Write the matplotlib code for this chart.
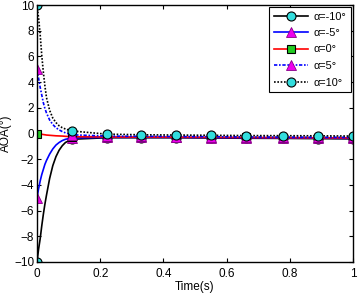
import matplotlib
matplotlib.use("Agg")
import matplotlib.pyplot as plt

plt.rcParams['font.family'] = ['Liberation Sans', 'DejaVu Sans']

t = [0, 0.005, 0.01, 0.015, 0.02, 0.025, 0.03, 0.04, 0.05, 0.06, 0.07, 0.08, 0.09,
     0.11, 0.22, 0.33, 0.44, 0.55, 0.66, 0.78, 0.89, 1.0]
marker_idx = [0, 13, 14, 15, 16, 17, 18, 19, 20, 21]

aoa_m10 = [-10, -9.0, -8.2, -7.2, -6.3, -5.5, -4.8, -3.5, -2.5, -1.8, -1.3, -0.95, -0.7,
           -0.45, -0.33, -0.33, -0.33, -0.35, -0.37, -0.38, -0.4, -0.42]
aoa_m5 = [-5, -4.3, -3.7, -3.2, -2.8, -2.4, -2.1, -1.6, -1.2, -0.9, -0.7, -0.55, -0.45,
          -0.35, -0.3, -0.3, -0.3, -0.32, -0.33, -0.35, -0.36, -0.38]
aoa_0 = [0, -0.02, -0.04, -0.06, -0.08, -0.1, -0.12, -0.14, -0.16, -0.18, -0.19, -0.2, -0.22,
         -0.25, -0.27, -0.28, -0.29, -0.3, -0.31, -0.32, -0.33, -0.34]
aoa_p5 = [5, 4.3, 3.6, 3.0, 2.4, 1.95, 1.6, 1.05, 0.7, 0.45, 0.28, 0.15, 0.05,
          -0.1, -0.2, -0.22, -0.24, -0.25, -0.27, -0.28, -0.29, -0.3]
aoa_p10 = [10, 9.0, 7.7, 6.1, 4.8, 3.7, 2.8, 1.8, 1.2, 0.85, 0.6, 0.45, 0.35,
           0.2, -0.05, -0.1, -0.12, -0.14, -0.16, -0.17, -0.18, -0.2]

labels = ['α=-10°', 'α=-5°', 'α=0°', 'α=5°', 'α=10°']
xticks = [0, 0.2, 0.4, 0.6, 0.8, 1]
xticklabels = ['0', '0.2', '0.4', '0.6', '0.8', '1']
yticks = [-10, -8, -6, -4, -2, 0, 2, 4, 6, 8, 10]

fig = plt.figure(figsize=(3.6, 2.93), dpi=100)
ax = fig.add_axes([37/360, 31/293, 316/360, 257/293])

ms = 6.5
lw = 1.2
ax.plot(t, aoa_m10, color='black', ls='-', lw=lw, marker='o', ms=ms,
        mfc='#33dddd', mec='black', mew=0.8, markevery=marker_idx, label=labels[0])
ax.plot(t, aoa_m5, color='blue', ls='-', lw=lw, marker='^', ms=ms,
        mfc='#ee00ee', mec='#880088', mew=0.6, markevery=marker_idx, label=labels[1])
ax.plot(t, aoa_0, color='red', ls='-', lw=lw, marker='s', ms=5.5,
        mfc='#22cc22', mec='black', mew=0.8, markevery=marker_idx, label=labels[2])
ax.plot(t, aoa_p5, color='blue', ls=(0, (2, 1, 1, 1)), lw=lw, marker='^', ms=ms,
        mfc='#ee00ee', mec='#880088', mew=0.6, markevery=marker_idx, label=labels[3])
ax.plot(t, aoa_p10, color='black', ls=(0, (1, 1)), lw=lw, marker='o', ms=ms,
        mfc='#33dddd', mec='black', mew=0.8, markevery=marker_idx, label=labels[4])

ax.set_xlim(0, 1)
ax.set_ylim(-10, 10)
ax.set_xticks(xticks)
ax.set_xticklabels(xticklabels)
ax.set_yticks(yticks)
ax.tick_params(direction='in', top=True, right=True, labelsize=8.5, length=3, width=0.8)
ax.tick_params(axis='x', pad=4)
ax.tick_params(axis='y', pad=2)
for s in ax.spines.values():
    s.set_linewidth(1.0)

ax.set_xlabel('Time(s)', fontsize=8.5)
ax.xaxis.set_label_coords(0.5, -0.075)
ax.set_ylabel('AOA(°)', fontsize=8.5)
ax.yaxis.set_label_coords(-0.078, 0.5)

leg = ax.legend(loc='upper right', fontsize=7.8, handlelength=3.2, fancybox=False,
                edgecolor='black', framealpha=1, borderaxespad=0.15, labelspacing=0.6,
                handletextpad=0.5, borderpad=0.45)
leg.get_frame().set_linewidth(0.8)

fig.savefig('out.png', dpi=100)
